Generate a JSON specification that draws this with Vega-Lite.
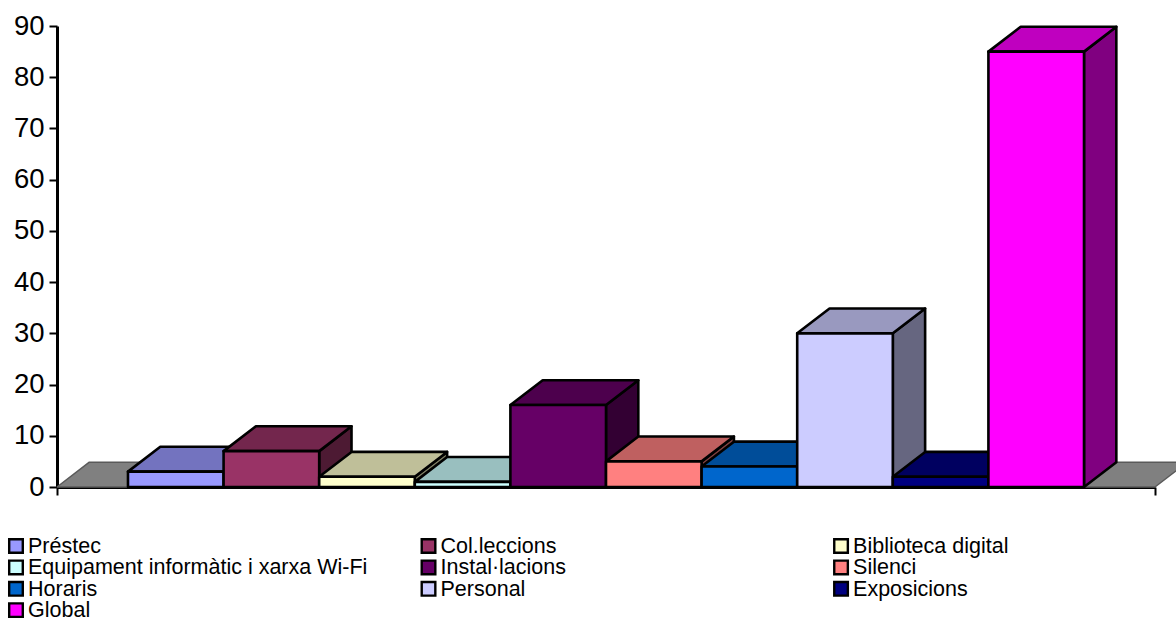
{
  "$schema": "https://vega.github.io/schema/vega-lite/v6.json",
  "width": 1098,
  "height": 461,
  "autosize": {"type": "none"},
  "padding": {"left": 57, "top": 26, "right": 21, "bottom": 131},
  "background": "white",
  "config": {
    "view": {"stroke": null},
    "font": "Liberation Sans",
    "axisX": {
      "title": null, "grid": false, "labels": false,
      "domainColor": "black", "domainWidth": 3, "tickColor": "black", "tickWidth": 2, "tickSize": 8, "zindex": 1
    },
    "axisY": {
      "title": null, "grid": false,
      "domainColor": "black", "domainWidth": 3, "tickColor": "black", "tickWidth": 2, "tickSize": 8,
      "labelFont": "Liberation Sans", "labelFontSize": 27.5, "labelColor": "black", "labelPadding": 5, "zindex": 1
    }
  },
  "datasets": {
    "scores": [
      {"name": "Préstec", "value": 3, "order": 0},
      {"name": "Col.leccions", "value": 7, "order": 1},
      {"name": "Biblioteca digital", "value": 2, "order": 2},
      {"name": "Equipament informàtic i xarxa Wi-Fi", "value": 1, "order": 3},
      {"name": "Instal·lacions", "value": 16, "order": 4},
      {"name": "Silenci", "value": 5, "order": 5},
      {"name": "Horaris", "value": 4, "order": 6},
      {"name": "Personal", "value": 30, "order": 7},
      {"name": "Exposicions", "value": 2, "order": 8},
      {"name": "Global", "value": 85, "order": 9}
    ],
    "floorEdges": [
      {"edge": 0},
      {"edge": 1}
    ]
  },
  "layer": [
    {
      "data": {"name": "floorEdges"},
      "transform": [
        {"calculate": "datum.edge * 4.85", "as": "yy"},
        {"calculate": "datum.edge * 0.338", "as": "xa"},
        {"calculate": "11.485 + datum.edge * 0.338", "as": "xb"}
      ],
      "mark": {"type": "area", "orient": "horizontal", "fill": "#808080", "stroke": "#5a5a5a", "strokeWidth": 1.5, "strokeJoin": "bevel", "clip": false},
      "encoding": {
        "y": {
          "field": "yy", "type": "quantitative", "stack": null, "title": null,
          "scale": {"domain": [0, 90], "nice": false, "zero": false},
          "axis": {"values": [0, 10, 20, 30, 40, 50, 60, 70, 80, 90]}
        },
        "x": {
          "field": "xa", "type": "quantitative", "title": null,
          "scale": {"domain": [0, 11.485], "nice": false, "zero": false},
          "axis": {"values": [0, 11.485]}
        },
        "x2": {"field": "xb"}
      }
    },
    {
      "data": {"name": "scores"},
      "transform": [
        {"calculate": "[0, 1]", "as": "edge"},
        {"flatten": ["edge"]},
        {"calculate": "datum.order + 1.7425 + datum.edge * 0.338", "as": "xx"},
        {"calculate": "datum.edge * 4.85", "as": "y0"},
        {"calculate": "datum.value + datum.edge * 4.85", "as": "y1"}
      ],
      "mark": {"type": "area", "orient": "vertical", "stroke": "black", "strokeWidth": 2.6, "strokeJoin": "round", "clip": false},
      "encoding": {
        "x": {"field": "xx", "type": "quantitative", "title": null, "scale": {"domain": [0, 11.485], "nice": false, "zero": false}, "axis": {"values": [0, 11.485]}},
        "y": {"field": "y0", "type": "quantitative", "stack": null, "title": null, "scale": {"domain": [0, 90], "nice": false, "zero": false}, "axis": {"values": [0, 10, 20, 30, 40, 50, 60, 70, 80, 90]}},
        "y2": {"field": "y1"},
        "fill": {
          "field": "name", "type": "nominal", "legend": null,
          "scale": {
            "domain": ["Préstec", "Col.leccions", "Biblioteca digital", "Equipament informàtic i xarxa Wi-Fi", "Instal·lacions", "Silenci", "Horaris", "Personal", "Exposicions", "Global"],
            "range": ["#4d4d80", "#4d1a33", "#808066", "#668080", "#330033", "#804040", "#003366", "#666680", "#000040", "#800080"]
          }
        },
        "detail": {"field": "name"}
      }
    },
    {
      "data": {"name": "scores"},
      "transform": [
        {"calculate": "[0, 1]", "as": "edge"},
        {"flatten": ["edge"]},
        {"calculate": "datum.value + datum.edge * 4.85", "as": "yy"},
        {"calculate": "datum.order + 0.7425 + datum.edge * 0.338", "as": "xa"},
        {"calculate": "datum.order + 1.7425 + datum.edge * 0.338", "as": "xb"}
      ],
      "mark": {"type": "area", "orient": "horizontal", "stroke": "black", "strokeWidth": 2.6, "strokeJoin": "round", "clip": false},
      "encoding": {
        "y": {"field": "yy", "type": "quantitative", "stack": null, "title": null, "scale": {"domain": [0, 90], "nice": false, "zero": false}, "axis": {"values": [0, 10, 20, 30, 40, 50, 60, 70, 80, 90]}},
        "x": {"field": "xa", "type": "quantitative", "title": null, "scale": {"domain": [0, 11.485], "nice": false, "zero": false}, "axis": {"values": [0, 11.485]}},
        "x2": {"field": "xb"},
        "fill": {
          "field": "name", "type": "nominal", "legend": null,
          "scale": {
            "domain": ["Préstec", "Col.leccions", "Biblioteca digital", "Equipament informàtic i xarxa Wi-Fi", "Instal·lacions", "Silenci", "Horaris", "Personal", "Exposicions", "Global"],
            "range": ["#7373bf", "#73264d", "#bfbf99", "#99bfbf", "#4d004d", "#bf6060", "#004d99", "#9999bf", "#000060", "#bf00bf"]
          }
        },
        "detail": {"field": "name"}
      }
    },
    {
      "data": {"name": "scores"},
      "transform": [
        {"calculate": "datum.order + 0.7425", "as": "xa"},
        {"calculate": "datum.order + 1.7425", "as": "xb"},
        {"calculate": "0", "as": "base"}
      ],
      "mark": {"type": "rect", "stroke": "black", "strokeWidth": 2.6, "strokeJoin": "round", "clip": false},
      "encoding": {
        "x": {"field": "xa", "type": "quantitative", "title": null, "scale": {"domain": [0, 11.485], "nice": false, "zero": false}, "axis": {"values": [0, 11.485]}},
        "x2": {"field": "xb"},
        "y": {"field": "value", "type": "quantitative", "title": null, "scale": {"domain": [0, 90], "nice": false, "zero": false}, "axis": {"values": [0, 10, 20, 30, 40, 50, 60, 70, 80, 90]}},
        "y2": {"field": "base"},
        "fill": {
          "field": "name", "type": "nominal", "legend": null,
          "scale": {
            "domain": ["Préstec", "Col.leccions", "Biblioteca digital", "Equipament informàtic i xarxa Wi-Fi", "Instal·lacions", "Silenci", "Horaris", "Personal", "Exposicions", "Global"],
            "range": ["#9999ff", "#993366", "#ffffcc", "#ccffff", "#660066", "#ff8080", "#0066cc", "#ccccff", "#000080", "#ff00ff"]
          }
        }
      }
    },
    {
      "data": {"name": "scores"},
      "transform": [
        {"calculate": "-0.4289 + (datum.order % 3) * 4.315", "as": "keyX"},
        {"calculate": "-11.519 - floor(datum.order / 3) * 4.178", "as": "keyY"}
      ],
      "mark": {"type": "point", "shape": "square", "filled": true, "size": 185, "opacity": 1, "stroke": "black", "strokeWidth": 2.4, "clip": false},
      "encoding": {
        "x": {"field": "keyX", "type": "quantitative", "title": null, "scale": {"domain": [0, 11.485], "nice": false, "zero": false}, "axis": {"values": [0, 11.485]}},
        "y": {"field": "keyY", "type": "quantitative", "title": null, "scale": {"domain": [0, 90], "nice": false, "zero": false}, "axis": {"values": [0, 10, 20, 30, 40, 50, 60, 70, 80, 90]}},
        "fill": {
          "field": "name", "type": "nominal", "legend": null,
          "scale": {
            "domain": ["Préstec", "Col.leccions", "Biblioteca digital", "Equipament informàtic i xarxa Wi-Fi", "Instal·lacions", "Silenci", "Horaris", "Personal", "Exposicions", "Global"],
            "range": ["#9999ff", "#993366", "#ffffcc", "#ccffff", "#660066", "#ff8080", "#0066cc", "#ccccff", "#000080", "#ff00ff"]
          }
        }
      }
    },
    {
      "data": {"name": "scores"},
      "transform": [
        {"calculate": "-0.3033 + (datum.order % 3) * 4.315", "as": "keyX"},
        {"calculate": "-12.886 - floor(datum.order / 3) * 4.178", "as": "keyY"}
      ],
      "mark": {"type": "text", "align": "left", "baseline": "alphabetic", "font": "Liberation Sans", "fontSize": 21.5, "fill": "black", "clip": false},
      "encoding": {
        "x": {"field": "keyX", "type": "quantitative", "title": null, "scale": {"domain": [0, 11.485], "nice": false, "zero": false}, "axis": {"values": [0, 11.485]}},
        "y": {"field": "keyY", "type": "quantitative", "title": null, "scale": {"domain": [0, 90], "nice": false, "zero": false}, "axis": {"values": [0, 10, 20, 30, 40, 50, 60, 70, 80, 90]}},
        "text": {"field": "name", "type": "nominal"}
      }
    }
  ],
  "resolve": {"scale": {"fill": "independent"}}
}
